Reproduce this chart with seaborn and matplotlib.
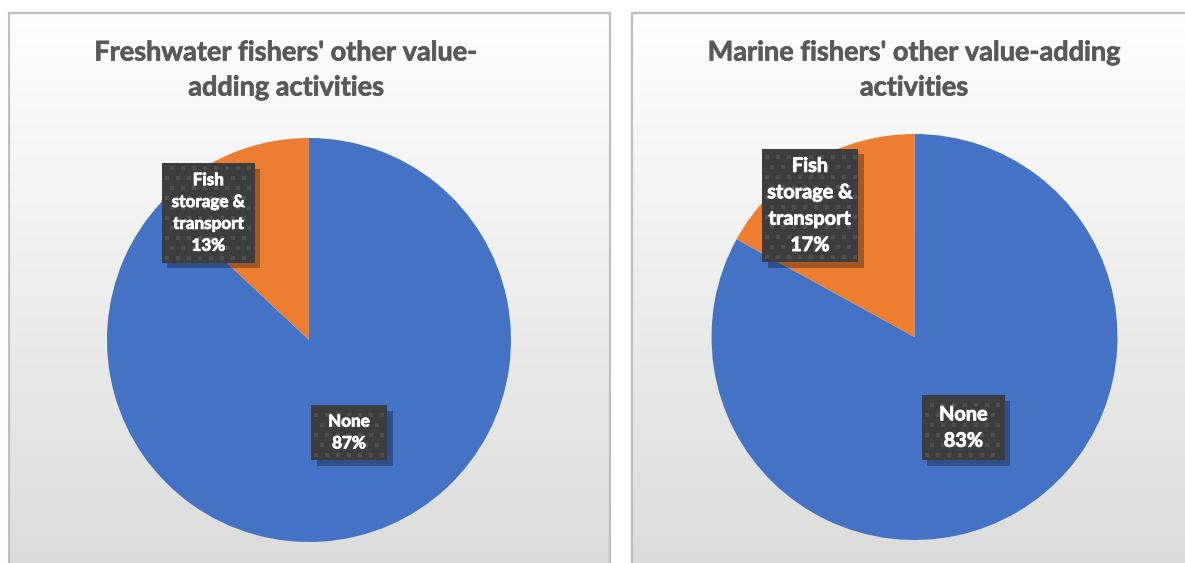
import numpy as np
import matplotlib
matplotlib.use("Agg")
import matplotlib.pyplot as plt
import matplotlib.patheffects as pe
from matplotlib.patches import Rectangle
import seaborn as sns

sns.set_theme(style="white")
plt.rcParams["font.family"] = ["Lato", "DejaVu Sans"]

# Data
categories = ["None", "Fish storage & transport"]
label_lines = ["None", "Fish\nstorage &\ntransport"]
freshwater_pct = [87, 13]
marine_pct = [83, 17]
titles = ["Freshwater fishers' other value-\nadding activities",
          "Marine fishers' other value-adding\nactivities"]
colors = ["#4472C4", "#ED7D31"]

W, H = 1185, 563
fig = plt.figure(figsize=(W / 100, H / 100), dpi=100)


def px_axes(x0, y0, w, h):
    """Axes placed with pixel coordinates measured from the top-left."""
    return fig.add_axes([x0 / W, 1 - (y0 + h) / H, w / W, h / H])


# Panel backgrounds with a soft vertical gradient and a grey frame
grad = np.linspace(1.0, 0.0, 256).reshape(-1, 1)
grad_cmap = matplotlib.colors.LinearSegmentedColormap.from_list(
    "panel", ["#DCDCDC", "#FFFFFF"])
for x0, x1 in [(8.5, 609.5), (631.5, 1200)]:
    bg = px_axes(x0, 13, x1 - x0, H - 13 + 5)
    bg.imshow(grad, aspect="auto", cmap=grad_cmap, extent=[0, 1, 0, 1],
              vmin=0, vmax=1)
    bg.set_xlim(0, 1)
    bg.set_ylim(0, 1)
    bg.axis("off")
    bg.add_patch(Rectangle((0, 0), 1, 1, fill=False, edgecolor="#BFBFBF",
                           linewidth=1.6, transform=bg.transAxes,
                           clip_on=False))

# Pie geometry (pixel centre and radius); label boxes as
# (centre x, centre y, width, height) in radius units
pies = [
    dict(cx=309, cy=340, r=202, vals=freshwater_pct, title=titles[0],
         title_x=286, fs=12.3, ls=1.45,
         boxes=[(0.198, -0.458, 0.376, 0.272), (-0.498, 0.629, 0.46, 0.495)]),
    dict(cx=914.5, cy=337, r=203, vals=marine_pct, title=titles[1],
         title_x=914, fs=14.3, ls=1.4,
         boxes=[(0.241, -0.446, 0.409, 0.32), (-0.515, 0.648, 0.473, 0.557)]),
]

text_fx = [pe.withStroke(linewidth=0.6, foreground="white")]

for p in pies:
    ax = px_axes(p["cx"] - p["r"], p["cy"] - p["r"], 2 * p["r"], 2 * p["r"])
    ax.pie(p["vals"], colors=colors, startangle=90, counterclock=False,
           radius=1.0, wedgeprops=dict(linewidth=0))
    ax.set_xlim(-1, 1)
    ax.set_ylim(-1, 1)
    ax.set_aspect("equal")
    ax.axis("off")
    r = p["r"]
    for name, val, (bx, by, bw, bh) in zip(label_lines, p["vals"], p["boxes"]):
        x0, y0 = bx - bw / 2, by - bh / 2
        box = Rectangle((x0, y0), bw, bh, facecolor="#3D3D3D",
                        edgecolor="none", zorder=4, clip_on=False)
        box.set_path_effects([
            pe.SimplePatchShadow(offset=(4, -4), shadow_rgbFace="#000000",
                                 alpha=0.3),
            pe.Normal()])
        ax.add_patch(box)
        # staggered dot texture inside the label box
        step_x, step_y = 11 / r, 10 / r
        gx, gy = [], []
        for i, yy in enumerate(np.arange(y0 + 5 / r, y0 + bh - 2 / r, step_y)):
            shift = 0 if i % 2 == 0 else step_x / 2
            xs = np.arange(x0 + 5 / r + shift, x0 + bw - 2 / r, step_x)
            gx.extend(xs)
            gy.extend([yy] * len(xs))
        dots = ax.scatter(gx, gy, s=5, marker="s", color="#4F4F4F",
                          linewidths=0, zorder=4.5)
        dots.set_clip_path(box)
        ax.text(bx, by, f"{name}\n{val}%", ha="center", va="center",
                color="white", fontsize=p["fs"], fontweight="bold",
                linespacing=p["ls"], zorder=5, path_effects=text_fx)
    fig.text(p["title_x"] / W, 1 - 70 / H, p["title"], ha="center",
             va="center", fontsize=19.5, fontweight="bold", color="#595959",
             linespacing=1.55,
             path_effects=[pe.withStroke(linewidth=0.5, foreground="#595959")])

fig.savefig("out.png", dpi=100)
